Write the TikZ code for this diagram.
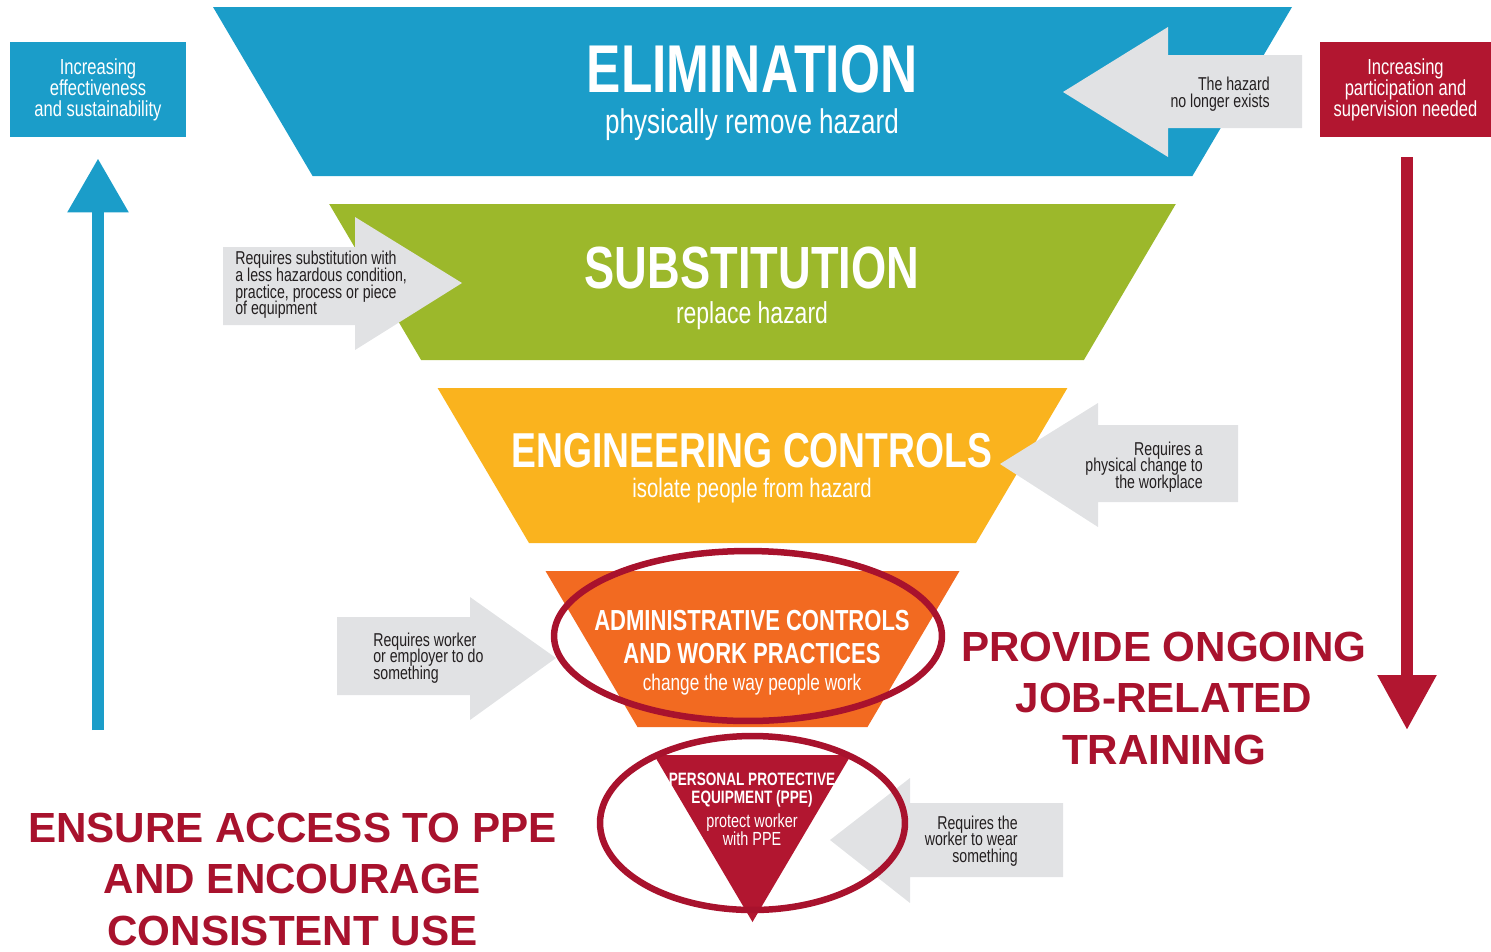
\documentclass[tikz,border=0pt]{standalone}
\usepackage{fontspec}
\setmainfont{Liberation Sans}
\newfontfamily\condfont[FakeStretch=0.76]{Liberation Sans}
\usetikzlibrary{arrows.meta}

\definecolor{elimblue}{RGB}{27,157,201}
\definecolor{substgreen}{RGB}{156,184,43}
\definecolor{engyellow}{RGB}{250,179,30}
\definecolor{adminorange}{RGB}{242,106,33}
\definecolor{ppered}{RGB}{178,22,48}
\definecolor{markred}{RGB}{168,18,45}
\definecolor{notegray}{RGB}{225,226,228}
\definecolor{notetext}{RGB}{35,31,32}

\newcommand{\fs}[2]{\fontsize{#1}{#2}\selectfont}
\lineskiplimit=-\maxdimen

\begin{document}
\begin{tikzpicture}[x=0.02cm, y=-0.02cm,
    title/.style={inner sep=0, text=white, font=\condfont\bfseries\fs{#1}{#1}},
    sub/.style={inner sep=0, text=white, font=\condfont\fs{#1}{#1}},
    note/.style={inner sep=0, text=notetext, font=\condfont\fs{10.6}{9.5}},
    notearrow/.style={fill=notegray},
    sidebox/.style={inner sep=0, minimum height=1.9cm, text=white, align=center, font=\condfont\fs{12.4}{12}},
    hilite/.style={draw=markred, line width=0.13cm},
    call/.style={inner sep=0, text=markred, align=center, font=\bfseries\fs{24}{29.3}}]
    \useasboundingbox (0,0) rectangle (1491,951);
    \clip (0,0) rectangle (1491,951);

    \fill[elimblue] (213,7) -- (1292,7) -- (1192.4,176) -- (312.6,176) -- cycle;
    \fill[substgreen] (329.2,204) -- (1175.8,204) -- (1083.9,360) -- (421.1,360) -- cycle;
    \fill[engyellow] (437.6,388) -- (1067.4,388) -- (976,543) -- (529,543) -- cycle;
    \fill[adminorange] (545.5,571) -- (959.5,571) -- (867.5,727) -- (637.5,727) -- cycle;
    \fill[ppered] (654,755) -- (851,755) -- (752.5,922) -- cycle;

    \fill[notearrow] (1063,92) -- (1168,27) -- (1168,55) -- (1302,55) -- (1302,128) -- (1168,128) -- (1168,157) -- cycle;
    \fill[notearrow] (462,283) -- (355,217) -- (355,247) -- (223,247) -- (223,325) -- (355,325) -- (355,350) -- cycle;
    \fill[notearrow] (1000,464) -- (1098,403) -- (1098,425) -- (1238,425) -- (1238,502) -- (1098,502) -- (1098,527) -- cycle;
    \fill[notearrow] (556,658) -- (470,597) -- (470,617) -- (337,617) -- (337,695) -- (470,695) -- (470,720) -- cycle;
    \fill[notearrow] (830,840) -- (910,778) -- (910,803) -- (1063,803) -- (1063,877) -- (910,877) -- (910,903) -- cycle;

    \node[title=38.5, anchor=base] (elim) at (752,92) {ELIMINATION};
    \node[sub=19.5, anchor=base] (elimsub) at (752,133) {physically remove hazard};
    \node[title=33.9, anchor=base] (subst) at (752,288) {SUBSTITUTION};
    \node[sub=17.2, anchor=base] (substsub) at (752,323) {replace hazard};
    \node[title=27.9, anchor=base] (eng) at (752,467) {ENGINEERING CONTROLS};
    \node[sub=15.2, anchor=base] (engsub) at (752,497) {isolate people from hazard};
    \node[title=16.5, anchor=base] (admin) at (752,630) {ADMINISTRATIVE CONTROLS};
    \node[title=16.5, anchor=base] (admintwo) at (752,663) {AND WORK PRACTICES};
    \node[sub=12.9, anchor=base] (adminsub) at (752,690) {change the way people work};
    \node[title=10.2, anchor=base] (ppe) at (752,785) {PERSONAL PROTECTIVE};
    \node[title=10.2, anchor=base] (ppetwo) at (752,803) {EQUIPMENT (PPE)};
    \node[sub=10.8, anchor=base] (ppesub) at (752,827) {protect worker};
    \node[sub=10.8, anchor=base] (ppesubtwo) at (752,845) {with PPE};

    \node[note, anchor=east, align=right] (elimnote) at (1270,94) {The hazard\\no longer exists};
    \node[note, anchor=west, align=left] (substnote) at (235,285) {Requires substitution with\\a less hazardous condition,\\practice, process or piece\\of equipment};
    \node[note, anchor=east, align=right] (engnote) at (1203,467) {Requires a\\physical change to\\the workplace};
    \node[note, anchor=west, align=left] (adminnote) at (373,658) {Requires worker\\or employer to do\\something};
    \node[note, anchor=east, align=right] (ppenote) at (1018,841) {Requires the\\worker to wear\\something};

    \node[sidebox, fill=elimblue, minimum width=3.52cm] (effect) at (98,89.5) {Increasing\\effectiveness\\and sustainability};
    \node[sidebox, fill=ppered, minimum width=3.42cm] (superv) at (1405.5,89.5) {Increasing\\participation and\\supervision needed};
    \coordinate (effectfoot) at (98,730);
    \coordinate (supervfoot) at (1407,730);
    \draw[line width=0.24cm, elimblue, -{Triangle[length=1.08cm, width=1.16cm]}, shorten >=0.42cm] (effectfoot) -- (effect);
    \draw[line width=0.24cm, ppered, -{Triangle[length=1.1cm, width=1.12cm]}, shorten <=0.4cm] (superv.south -| supervfoot) -- (supervfoot);

    \draw[hilite] (748,636) ellipse [x radius=3.88cm, y radius=1.7cm];
    \draw[hilite] (752.5,823) ellipse [x radius=3.05cm, y radius=1.74cm];

    \node[call] (training) at (1164,698) {PROVIDE ONGOING\\JOB-RELATED\\TRAINING};
    \node[call] (ppeuse) at (292.5,879) {ENSURE ACCESS TO PPE\\AND ENCOURAGE\\CONSISTENT USE};
\end{tikzpicture}
\end{document}
